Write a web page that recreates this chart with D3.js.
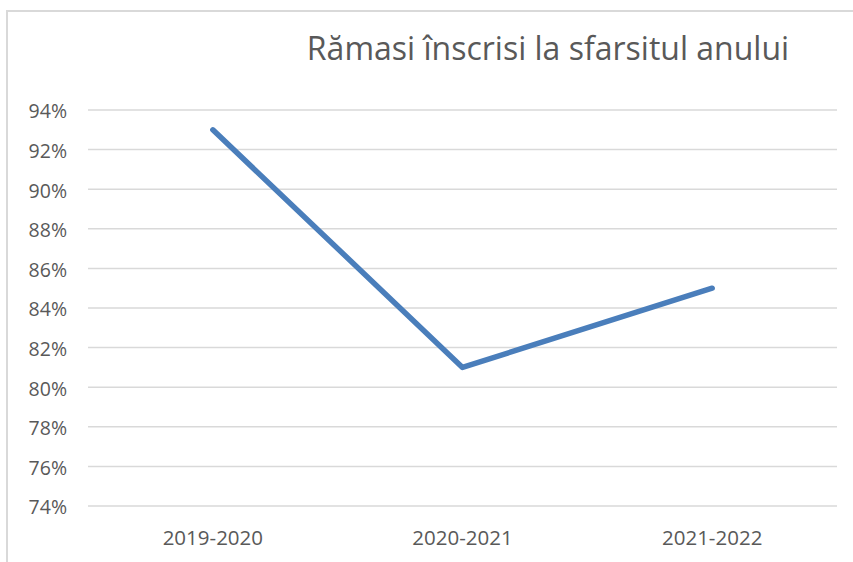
<!DOCTYPE html>
<html>
<head>
<meta charset="utf-8">
<script src="https://cdn.jsdelivr.net/npm/d3@7"></script>
<style>
  html, body { margin: 0; padding: 0; background: #fff; }
  svg { display: block; }
</style>
</head>
<body>
<svg id="chart" width="853" height="562"></svg>
<script>
const title = "Rămasi înscrisi la sfarsitul anului";
const categories = ["2019-2020", "2020-2021", "2021-2022"];
const values = [0.93, 0.81, 0.85];
const yTicks = [0.74, 0.76, 0.78, 0.80, 0.82, 0.84, 0.86, 0.88, 0.90, 0.92, 0.94];

const svg = d3.select("#chart");
const W = 853, H = 562;
const plot = { left: 88, right: 837, top: 110, bottom: 506 };

// chart border (top & left visible)
svg.append("path")
  .attr("d", `M7,${H} L7,11 L${W},11`)
  .attr("fill", "none")
  .attr("stroke", "#d9d9d9")
  .attr("stroke-width", 2);

const x = d3.scaleBand().domain(categories).range([plot.left, plot.right]).paddingInner(0).paddingOuter(0);
const y = d3.scaleLinear().domain([0.74, 0.94]).range([plot.bottom, plot.top]);

// gridlines
svg.append("g")
  .selectAll("line")
  .data(yTicks)
  .join("line")
  .attr("x1", plot.left)
  .attr("x2", plot.right)
  .attr("y1", d => y(d))
  .attr("y2", d => y(d))
  .attr("stroke", "#d9d9d9")
  .attr("stroke-width", 1.5);

// y axis labels
const yAxis = d3.axisLeft(y).tickValues(yTicks).tickFormat(d3.format(".0%")).tickSize(0).tickPadding(0);
const yG = svg.append("g").attr("transform", `translate(67,0)`).call(yAxis);
yG.select(".domain").remove();
yG.selectAll("text")
  .attr("fill", "#595959")
  .attr("font-family", "'Open Sans', sans-serif")
  .attr("font-size", 19.5)
  .attr("dy", "0.4em");

// x axis labels
const xAxis = d3.axisBottom(x).tickSize(0).tickPadding(0);
const xG = svg.append("g").attr("transform", `translate(0,545)`).call(xAxis);
xG.select(".domain").remove();
xG.selectAll("text")
  .attr("fill", "#595959")
  .attr("font-family", "'Open Sans', sans-serif")
  .attr("font-size", 20.5)
  .attr("dy", 0)
  .attr("y", 0);

// line
const line = d3.line()
  .x((d, i) => x(categories[i]) + x.bandwidth() / 2)
  .y(d => y(d));
svg.append("path")
  .datum(values)
  .attr("d", line)
  .attr("fill", "none")
  .attr("stroke", "#4a7ebb")
  .attr("stroke-width", 5.5)
  .attr("stroke-linejoin", "round")
  .attr("stroke-linecap", "round");

// title
svg.append("text")
  .attr("x", 548)
  .attr("y", 60)
  .attr("text-anchor", "middle")
  .attr("fill", "#595959")
  .attr("font-family", "'Open Sans', sans-serif")
  .attr("font-size", 32)
  .text(title);
</script>
</body>
</html>
